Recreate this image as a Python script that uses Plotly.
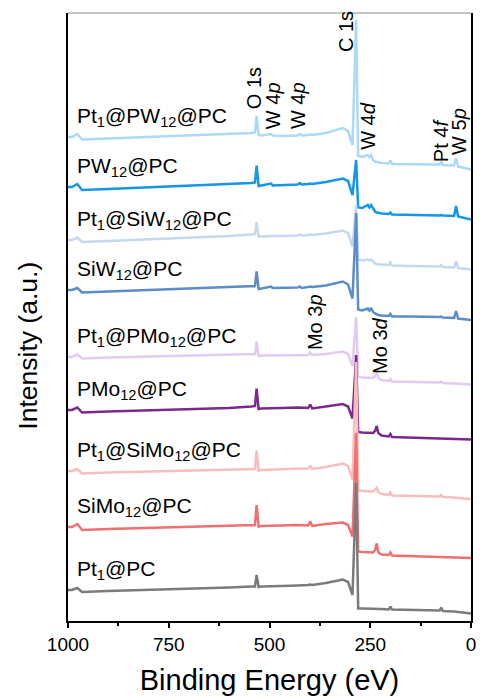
import plotly.graph_objects as go

# Binding-energy grid shared by all survey spectra (eV)
energy = [1000, 990, 977, 965, 900, 800, 700, 600, 545, 536, 532, 527, 520, 496, 492,
          470, 430, 425, 420, 404, 399, 394, 360, 318, 305, 294, 285, 280, 270, 256,
          252, 248, 243, 238, 234, 230, 222, 204, 200, 196, 150, 100, 78, 74, 70,
          42, 37, 32, 20, 0]

# Stacked (offset) intensities, a.u.
pt1_pw12_pc = [484, 484, 487, 481.5, 482.5, 484, 485, 486.5, 488, 488.5, 505, 486, 485.5, 487, 485.5,
               485, 485.5, 487, 485.5, 486, 486.5, 486, 488, 493, 490, 476, 601, 465, 464, 466,
               464, 466, 461, 459.5, 459, 458.5, 458, 457.5, 460.5, 457, 457, 456.5, 456.5, 459.5, 456,
               455.5, 463, 454.5, 453.5, 451.5]
pw12_pc = [434, 434, 437, 431, 432, 433.5, 435, 436.5, 438, 438.5, 455.5, 435, 435.5, 437.5, 435.5,
           436, 436.5, 438, 436.5, 437, 437.5, 437, 439, 442.5, 440, 426, 461, 413.5, 413, 416,
           413.5, 416, 412, 409.5, 408.5, 408, 407.5, 407, 408.5, 406.5, 406, 406, 405.5, 406, 405.5,
           405, 415, 404.5, 403.5, 401.5]
pt1_siw12_pc = [381, 381, 383.5, 379, 380, 381.5, 383, 385, 386.5, 387, 398.5, 384.5, 384.5, 385.5, 385,
                385, 385.5, 386.5, 385.5, 386, 386.5, 386, 387.5, 390.5, 388, 374.5, 416, 361.5, 360.5, 361.5,
                360.5, 361.5, 359, 357.5, 357, 356.5, 356.5, 356, 358.5, 355.5, 355, 354.5, 354.5, 356, 354,
                353.5, 360, 353, 352.5, 351.5]
siw12_pc = [331, 331, 333, 328.5, 329.5, 331, 332, 333.5, 334.5, 335, 349.5, 332, 332.5, 334.5, 333,
            333, 333.5, 334.5, 333, 334, 334.5, 334, 335.5, 339.5, 336.5, 322.5, 408, 311.5, 310.5, 312.5,
            310.5, 313, 309, 307.5, 306.5, 306, 305.5, 305, 307, 304.5, 304.5, 304, 304, 304.5, 303.5,
            303, 310, 302.5, 302, 301]
pt1_pmo12_pc = [264, 264, 266.5, 262.5, 263.5, 264.5, 265.5, 266, 267, 267, 279.5, 265, 265.5, 265.5, 265.5,
                265.5, 266, 266, 266, 266, 268.5, 266, 267, 269.5, 267, 255, 304, 244, 243.5, 243.5,
                243, 243, 243, 245, 248.5, 243, 241, 240, 242, 239.5, 239, 238.5, 238.5, 239.5, 238,
                237.5, 237.5, 237.5, 237, 236.5]
pmo12_pc = [211, 211, 213.5, 208.5, 209.5, 210.5, 211.5, 213, 214.5, 215, 232.5, 212, 212.5, 213, 213,
            213, 213.5, 213.5, 213.5, 213, 216.5, 212.5, 214.5, 217, 214.5, 202.5, 266, 189, 188.5, 188.5,
            188, 188, 188, 190, 195, 188, 185.5, 184.5, 187, 184, 183.5, 183, 183, 183, 182.5,
            182.5, 182.5, 182.5, 182, 181.5]
pt1_simo12_pc = [150, 150, 152, 147.5, 148.5, 149.5, 150.5, 151.5, 152, 152, 170.5, 150.5, 151, 151.5, 151.5,
                 152, 152.5, 152.5, 152.5, 152.5, 155, 152, 154, 157.5, 155, 141.5, 259, 130.5, 130, 130,
                 129.5, 129.5, 129.5, 131, 133, 129, 127, 126, 128.5, 125.5, 125, 124.5, 124.5, 126, 124,
                 123.5, 123.5, 123, 122.5, 122]
simo12_pc = [94, 94, 97, 91, 92, 93, 94, 95, 96, 96, 116, 94.5, 95, 95.5, 95.5,
             95.5, 96, 96, 96, 95.5, 99.5, 95, 97, 98.5, 96, 84.5, 188, 69.5, 69, 69,
             68.5, 68.5, 68.5, 71, 77.5, 68.5, 66.5, 66, 68.5, 65.5, 65, 64.5, 64.5, 64.5, 64,
             64, 64, 63.5, 63.5, 63]
pt1_pc = [31, 31, 33, 29, 30, 31, 32, 33.5, 34.5, 34.5, 46, 34, 34.5, 35, 35,
          35, 35.5, 35.5, 35.5, 36, 36.5, 36, 38, 41.5, 39, 26, 138, 12.5, 12.5, 12.5,
          12.5, 12.5, 12.5, 12.5, 12.5, 12.5, 12, 11.5, 14.5, 11.5, 11, 10.5, 10.5, 13.5, 10,
          9.5, 9.5, 9, 8.5, 7.5]

sample_names = ["Pt<sub>1</sub>@PW<sub>12</sub>@PC", "PW<sub>12</sub>@PC",
                "Pt<sub>1</sub>@SiW<sub>12</sub>@PC", "SiW<sub>12</sub>@PC",
                "Pt<sub>1</sub>@PMo<sub>12</sub>@PC", "PMo<sub>12</sub>@PC",
                "Pt<sub>1</sub>@SiMo<sub>12</sub>@PC", "SiMo<sub>12</sub>@PC",
                "Pt<sub>1</sub>@PC"]
spectra = [pt1_pw12_pc, pw12_pc, pt1_siw12_pc, siw12_pc, pt1_pmo12_pc,
           pmo12_pc, pt1_simo12_pc, simo12_pc, pt1_pc]

# Core-level assignments: label, binding energy of label, label height
peak_labels = ["C 1s", "O 1s", "W 4<i>p</i>", "W 4<i>p</i>", "W 4<i>d</i>",
               "Pt 4<i>f</i>", "W 5<i>p</i>", "Mo 3<i>p</i>", "Mo 3<i>d</i>"]
peak_label_energy = [310, 538, 491, 429, 256, 74, 30, 387, 226]
peak_label_height = [589, 533, 515, 515, 495, 481, 490, 299, 275]

colors = ["#abd9f7", "#1596ea", "#c4d8ee", "#5b8dc9", "#e3caf1",
          "#7a2a8d", "#f8bdbd", "#f06f6f", "#7b7b7b"]

FONT = "Arial, Liberation Sans, sans-serif"

fig = go.Figure()
for name, vals, col in zip(sample_names, spectra, colors):
    fig.add_trace(go.Scatter(x=energy, y=vals, mode="lines", name=name,
                             line=dict(color=col, width=2.5), showlegend=False))

# sample names, placed just above each spectrum's high-energy end
for name, vals in zip(sample_names, spectra):
    fig.add_annotation(x=983, y=vals[0] + 20, xref="x", yref="y", text=name,
                       showarrow=False, xanchor="left", yanchor="middle",
                       font=dict(family=FONT, size=21, color="black"))

for lab, e, h in zip(peak_labels, peak_label_energy, peak_label_height):
    fig.add_annotation(x=e, y=h, xref="x", yref="y", text=lab, textangle=-90,
                       showarrow=False, xanchor="center", yanchor="middle",
                       font=dict(family=FONT, size=20, color="black"))

# y-axis title, sitting a little below the middle of the frame
fig.add_annotation(x=-0.098, y=0.452, xref="paper", yref="paper",
                   text="Intensity (a.u.)", textangle=-90, showarrow=False,
                   xanchor="center", yanchor="middle",
                   font=dict(family=FONT, size=26.5, color="black"))

# thin grey top border of the frame
fig.add_shape(type="line", xref="paper", yref="paper", x0=0, x1=1, y0=1, y1=1,
              line=dict(color="#8a8a8a", width=1))

fig.update_layout(
    width=480, height=697,
    margin=dict(l=68, r=9, t=13, b=76, autoexpand=False),
    paper_bgcolor="white", plot_bgcolor="white",
    font=dict(family=FONT, color="black"),
)
fig.update_xaxes(
    range=[1000, 0], tickvals=[1000, 750, 500, 250, 0], automargin=False,
    ticks="outside", ticklen=5, tickwidth=1.5, tickcolor="black",
    minor=dict(tickvals=[875, 625, 375, 125], ticks="outside", ticklen=3,
               tickwidth=1.5, tickcolor="black"),
    showline=True, linecolor="black", linewidth=1.5, mirror=False,
    showgrid=False, zeroline=False,
    tickfont=dict(family=FONT, size=19, color="black"),
    title=dict(text="Binding Energy (eV)", font=dict(family=FONT, size=29, color="black"),
               standoff=16),
)
fig.update_yaxes(
    range=[0, 608], showticklabels=False, ticks="", automargin=False,
    showline=True, linecolor="black", linewidth=2, mirror=True,
    showgrid=False, zeroline=False,
)

fig.write_html("out.html")
